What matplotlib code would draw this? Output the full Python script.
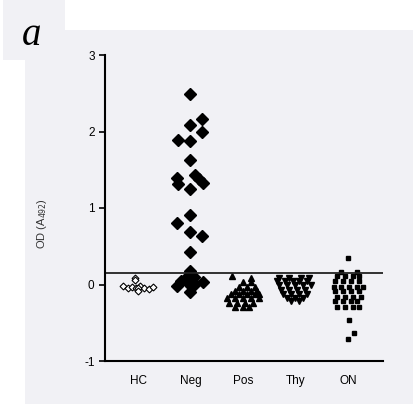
import numpy as np
import matplotlib.pyplot as plt
from matplotlib.patches import Rectangle

# groups and values
groups = ["HC", "Neg", "Pos", "Thy", "ON"]
cutoff = 0.145

hc_vals = [0.09, 0.06, -0.02, -0.04, -0.03, -0.05, -0.02, -0.04, -0.06, -0.03, -0.05, -0.09]
hc_dx = [-0.05, -0.05, -0.28, -0.2, -0.12, -0.04, 0.04, 0.12, 0.2, 0.28, 0.0, 0.0]

neg_vals = [2.49, 2.16, 2.09, 2.00, 1.89, 1.88, 1.63, 1.43, 1.38, 1.33, 1.39, 1.32, 1.25,
            0.91, 0.80, 0.68, 0.63, 0.43, 0.17, 0.10, 0.10, 0.04, 0.03, 0.01, 0.03, -0.02, -0.10]
neg_x = [192, 204, 192, 204, 179, 192, 192, 197, 201, 205, 178, 179, 192,
         192, 178, 192, 204, 192, 192, 188, 196, 182, 188, 197, 205, 178, 192]

pos_vals = [0.11, 0.08,
            0.03, 0.03,
            -0.03, -0.03, -0.03,
            -0.08, -0.08, -0.08, -0.08,
            -0.13, -0.13, -0.13, -0.13, -0.13,
            -0.18, -0.18, -0.18, -0.18, -0.18,
            -0.24, -0.24, -0.24, -0.24,
            -0.29, -0.29, -0.29]
pos_x = [233, 252,
         244, 252,
         240, 248, 256,
         236, 244, 252, 258,
         232, 240, 248, 256, 260,
         228, 236, 244, 252, 260,
         230, 238, 246, 254,
         236, 244, 250]

thy_vals = [0.09, 0.09, 0.09, 0.09,
            0.04, 0.04, 0.04, 0.04, 0.04,
            -0.01, -0.01, -0.01, -0.01, -0.01,
            -0.07, -0.07, -0.07, -0.07,
            -0.12, -0.12, -0.12, -0.12,
            -0.17, -0.17, -0.17,
            -0.21, -0.21]
thy_x = [280, 290, 302, 310,
         278, 286, 294, 300, 308,
         280, 288, 296, 304, 312,
         282, 290, 298, 306,
         284, 292, 300, 308,
         288, 296, 304,
         292, 300]

on_vals = [0.34,
           0.16, 0.16,
           0.11, 0.11, 0.11, 0.11,
           0.04, 0.04, 0.04, 0.04,
           -0.03, -0.03, -0.03, -0.03, -0.03,
           -0.09, -0.09, -0.09, -0.09,
           -0.16, -0.16, -0.16, -0.16,
           -0.22, -0.22, -0.22, -0.22,
           -0.29, -0.29, -0.29, -0.29,
           -0.47, -0.63, -0.71]
on_x = [347,
        340, 356,
        336, 344, 352, 358,
        334, 342, 350, 358,
        333, 340, 348, 356, 362,
        334, 342, 350, 358,
        336, 344, 352, 360,
        334, 342, 350, 356,
        336, 344, 352, 358,
        348, 353, 347]


def to_x(px, center, pos):
    # pixel-read horizontal spread -> category units
    return pos + (np.array(px) - center) / 52.5


fig = plt.figure(figsize=(4.14, 4.04), dpi=100)
fig.patch.set_facecolor("white")
bg = "#f1f1f5"
fig.patches.append(Rectangle((3 / 414, 1 - 60 / 404), 62 / 414, 60 / 404,
                             transform=fig.transFigure, facecolor=bg, edgecolor="none", zorder=-5))
fig.patches.append(Rectangle((25 / 414, 0), 389 / 414, 374 / 404,
                             transform=fig.transFigure, facecolor=bg, edgecolor="none", zorder=-5))

ax = fig.add_axes([105 / 414, 1 - 361 / 404, 278 / 414, 306 / 404])
ax.set_facecolor("none")

ax.plot(1 + np.array(hc_dx), hc_vals, "D", ms=3.5, mfc="white", mec="black", mew=0.8, ls="none")
ax.plot(to_x(neg_x, 192, 2), neg_vals, "D", ms=5.8, color="black", ls="none")
ax.plot(to_x(pos_x, 244, 3), pos_vals, "^", ms=5, color="black", ls="none")
ax.plot(to_x(thy_x, 296, 4), thy_vals, "v", ms=5, color="black", ls="none")
ax.plot(to_x(on_x, 347, 5), on_vals, "s", ms=2.8, color="black", ls="none")

ax.axhline(cutoff, color="#222222", lw=1.3)

ax.set_xlim(0.37, 5.67)
ax.set_ylim(-1, 3)
ax.set_xticks(range(1, 6))
ax.set_xticklabels(groups, fontsize=8.5, family="Liberation Sans")
ax.set_yticks([-1, 0, 1, 2, 3])
ax.set_yticklabels(["-1", "0", "1", "2", "3"], fontsize=8.5, family="Liberation Sans")
ax.tick_params(axis="x", length=0, pad=10)
ax.tick_params(axis="y", length=4, width=1.2)
for s in ["top", "right"]:
    ax.spines[s].set_visible(False)
for s in ["left", "bottom"]:
    ax.spines[s].set_linewidth(1.5)

ax.set_ylabel("OD (A$_{492}$)", fontsize=8, color="#333333", family="Liberation Sans")
ax.yaxis.set_label_coords(-0.2, 0.45)

fig.text(22 / 414, 1 - 45 / 404, "a", fontsize=28, style="italic", family="Liberation Serif")

fig.savefig("out.png", dpi=100)
